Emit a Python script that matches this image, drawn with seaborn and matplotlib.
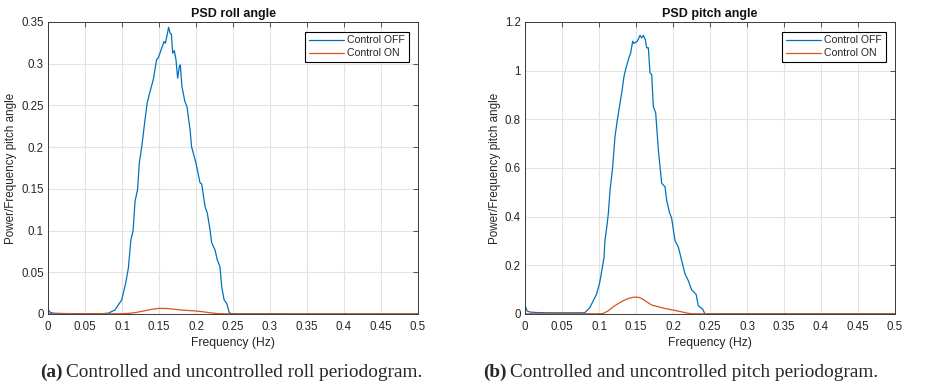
import numpy as np
import pandas as pd
import matplotlib
matplotlib.use("Agg")
import matplotlib.pyplot as plt
import seaborn as sns

# ---------------- data ----------------
roll_off_f = [0, 0.003, 0.007, 0.012, 0.02, 0.04, 0.06, 0.075, 0.0815, 0.0905, 0.0995,
              0.105, 0.1086, 0.112, 0.115, 0.1176, 0.121, 0.1234, 0.1266, 0.13, 0.134,
              0.138, 0.1423, 0.1468, 0.149, 0.152, 0.1568, 0.1586, 0.161, 0.163, 0.165,
              0.1667, 0.1685, 0.1707, 0.173, 0.1752, 0.1775, 0.1788, 0.181, 0.185,
              0.1878, 0.192, 0.194, 0.2, 0.2054, 0.2077, 0.2122, 0.2153, 0.219, 0.2212,
              0.2257, 0.2288, 0.2324, 0.2347, 0.238, 0.2414, 0.245, 0.248, 0.26, 0.3,
              0.35, 0.4, 0.45, 0.5]
roll_off_v = [0.0056, 0.002, 0.001, 0.0008, 0.0006, 0.0004, 0.0004, 0.0005, 0.001, 0.0048,
              0.0168, 0.037, 0.055, 0.089, 0.1, 0.135, 0.149, 0.181, 0.2, 0.225, 0.253,
              0.267, 0.281, 0.305, 0.307, 0.3145, 0.3265, 0.3246, 0.3345, 0.3437, 0.3366,
              0.3357, 0.3126, 0.3157, 0.3046, 0.2826, 0.2965, 0.2986, 0.2725, 0.2546,
              0.2486, 0.2206, 0.2006, 0.1807, 0.1574, 0.1559, 0.1287, 0.1207, 0.1007,
              0.0855, 0.0767, 0.0647, 0.0567, 0.0327, 0.0168, 0.0128, 0.0016, 0.0004,
              0.0003, 0.0003, 0.0002, 0.0002, 0.0002, 0.0002]
roll_on_f = [0, 0.1, 0.11, 0.12, 0.13, 0.14, 0.15, 0.16, 0.17, 0.18, 0.19, 0.2, 0.21,
             0.22, 0.23, 0.25, 0.5]
roll_on_v = [0.0003, 0.0003, 0.0008, 0.002, 0.0038, 0.0056, 0.0067, 0.0066, 0.0058,
             0.0048, 0.0042, 0.0036, 0.0026, 0.0014, 0.0004, 0.0002, 0.0001]

pitch_off_f = [0, 0.003, 0.007, 0.015, 0.03, 0.047, 0.065, 0.078, 0.081, 0.0878, 0.0923,
               0.0968, 0.1005, 0.1023, 0.1045, 0.1068, 0.108, 0.1104, 0.1126, 0.1149,
               0.1185, 0.1216, 0.1248, 0.1284, 0.131, 0.1338, 0.1365, 0.1396, 0.1428,
               0.1455, 0.1473, 0.1518, 0.1554, 0.1577, 0.1599, 0.1626, 0.1644, 0.1667,
               0.1689, 0.1712, 0.1734, 0.1766, 0.1802, 0.1847, 0.1892, 0.1914, 0.195,
               0.1982, 0.2027, 0.2072, 0.2117, 0.2162, 0.2207, 0.2252, 0.2311, 0.2342,
               0.2401, 0.2432, 0.26, 0.3, 0.35, 0.4, 0.45, 0.5]
pitch_off_v = [0.035, 0.012, 0.008, 0.006, 0.005, 0.005, 0.005, 0.005, 0.006, 0.027, 0.055,
               0.082, 0.124, 0.151, 0.192, 0.231, 0.302, 0.355, 0.412, 0.508, 0.605,
               0.729, 0.798, 0.866, 0.915, 0.977, 1.011, 1.045, 1.073, 1.121, 1.112,
               1.121, 1.145, 1.135, 1.145, 1.128, 1.094, 1.094, 0.991, 0.984, 0.853,
               0.826, 0.675, 0.537, 0.523, 0.468, 0.42, 0.393, 0.302, 0.275, 0.22, 0.165,
               0.137, 0.099, 0.082, 0.034, 0.02, 0.0, 0.001, 0.001, 0.001, 0.001, 0.001,
               0.001]
pitch_on_f = [0, 0.1, 0.1054, 0.112, 0.1194, 0.126, 0.1329, 0.14, 0.1464, 0.153, 0.158,
              0.162, 0.166, 0.171, 0.1824, 0.19, 0.2005, 0.21, 0.2185, 0.225, 0.25, 0.5]
pitch_on_v = [0.001, 0.001, 0.002, 0.012, 0.03, 0.043, 0.055, 0.064, 0.069, 0.069, 0.063,
              0.055, 0.047, 0.037, 0.028, 0.022, 0.016, 0.01, 0.004, 0.001, 0.0005, 0.0003]

x_ticks = [0, 0.05, 0.1, 0.15, 0.2, 0.25, 0.3, 0.35, 0.4, 0.45, 0.5]
x_ticklabels = ["0", "0.05", "0.1", "0.15", "0.2", "0.25", "0.3", "0.35", "0.4", "0.45", "0.5"]
roll_yticks = [0, 0.05, 0.1, 0.15, 0.2, 0.25, 0.3, 0.35]
roll_yticklabels = ["0", "0.05", "0.1", "0.15", "0.2", "0.25", "0.3", "0.35"]
pitch_yticks = [0, 0.2, 0.4, 0.6, 0.8, 1.0, 1.2]
pitch_yticklabels = ["0", "0.2", "0.4", "0.6", "0.8", "1", "1.2"]

titles = ["PSD roll angle", "PSD pitch angle"]
series_labels = ["Control OFF", "Control ON"]
ylabel = "Power/Frequency pitch angle"
xlabel = "Frequency (Hz)"
caption_tags = ["(a)", "(b)"]
caption_texts = ["Controlled and uncontrolled roll periodogram.",
                 "Controlled and uncontrolled pitch periodogram."]

# ---------------- style ----------------
sns.set_theme(style="whitegrid")
plt.rcParams["font.family"] = ["Liberation Sans", "DejaVu Sans"]
C_OFF = "#0072BD"
C_ON = "#D95319"

W, H = 925, 388
fig = plt.figure(figsize=(W / 100, H / 100), dpi=100)
fig.patch.set_facecolor("white")

def ax_rect(x0, x1, ytop, ybot):
    return [x0 / W, (H - ybot) / H, (x1 - x0) / W, (ybot - ytop) / H]

axes = [fig.add_axes(ax_rect(48, 418, 22, 314)),
        fig.add_axes(ax_rect(525, 895, 22, 314))]

panels = [
    (roll_off_f, roll_off_v, roll_on_f, roll_on_v, roll_yticks, roll_yticklabels, 0.35),
    (pitch_off_f, pitch_off_v, pitch_on_f, pitch_on_v, pitch_yticks, pitch_yticklabels, 1.2),
]

for ax, (fo, vo, fn, vn, yt, ytl, ymax), title in zip(axes, panels, titles):
    df = pd.concat([
        pd.DataFrame({"f": fo, "v": vo, "s": series_labels[0]}),
        pd.DataFrame({"f": fn, "v": vn, "s": series_labels[1]}),
    ])
    sns.lineplot(data=df, x="f", y="v", hue="s", palette=[C_OFF, C_ON], ax=ax,
                 linewidth=0.9, sort=True, estimator=None)
    ax.set_facecolor("white")
    ax.set_xlim(0, 0.5)
    ax.set_ylim(0, ymax)
    ax.set_xticks(x_ticks)
    ax.set_xticklabels(x_ticklabels)
    ax.set_yticks(yt)
    ax.set_yticklabels(ytl)
    ax.grid(True, color="#e3e3e3", linewidth=0.8)
    ax.tick_params(axis="both", which="both", direction="in", length=3.5,
                   width=0.6, color="#3a3a3a", labelsize=8.3, labelcolor="#262626",
                   top=True, right=True)
    ax.tick_params(axis="x", pad=5)
    ax.tick_params(axis="y", pad=3)
    for sp in ax.spines.values():
        sp.set_visible(True)
        sp.set_color("#3a3a3a")
        sp.set_linewidth(0.7)
    ax.set_title(title, fontsize=9, fontweight="bold", color="#111111", pad=3.5)
    ax.set_xlabel(xlabel, fontsize=8.7, color="#262626", labelpad=3)
    ax.set_ylabel(ylabel, fontsize=8.4, color="#262626", labelpad=3)
    leg = ax.legend(loc="upper right", fontsize=7.6, frameon=True, fancybox=False,
                    borderpad=0.35, handlelength=3.4, handletextpad=0.25,
                    labelspacing=0.3, borderaxespad=0.9, title=None)
    leg.get_frame().set_edgecolor("black")
    leg.get_frame().set_linewidth(0.8)
    leg.get_frame().set_alpha(1)
    for ln in leg.get_lines():
        ln.set_linewidth(0.9)

# ---------------- captions ----------------
fig.canvas.draw()
renderer = fig.canvas.get_renderer()
cap_starts = [40, 483]
base_y = (H - 377) / H
for x0, tag, txt in zip(cap_starts, caption_tags, caption_texts):
    t1 = fig.text(x0 / W, base_y, tag, fontsize=13.9, fontweight="bold",
                  family=["Liberation Serif", "DejaVu Serif"], va="baseline", ha="left")
    bb = t1.get_window_extent(renderer)
    fig.text((bb.x1 + 4) / W, base_y, txt, fontsize=13.9,
             family=["Liberation Serif", "DejaVu Serif"], va="baseline", ha="left")

fig.savefig("out.png", dpi=100, facecolor="white")
